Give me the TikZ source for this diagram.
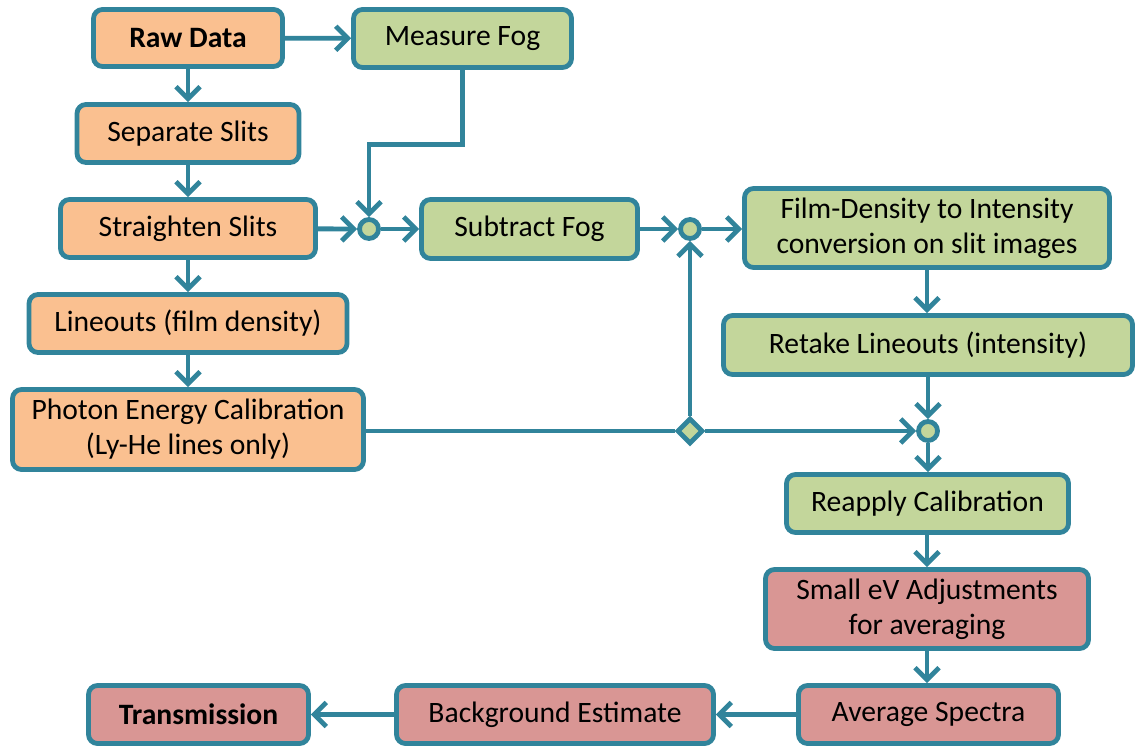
\documentclass[tikz,border=0pt]{standalone}
\usepackage{fontspec}
\setmainfont{Carlito}
\usepackage{xcolor}
\usetikzlibrary{arrows.meta,positioning,shapes.geometric,calc}
\definecolor{cbTeal}{HTML}{31849B}
\definecolor{cbOrange}{HTML}{FAC090}
\definecolor{cbGreen}{HTML}{C3D69B}
\definecolor{cbRed}{HTML}{D99694}

\begin{document}
\begin{tikzpicture}[
  x=0.5pt, y=-0.5pt,
  font=\fontsize{14.8}{17.5}\selectfont,
  box/.style={draw=cbTeal, line width=2.4pt, rounded corners=4.5pt, align=center, inner sep=0pt, fill=#1},
  flow/.style={draw=cbTeal, line width=2.4pt, -{Straight Barb[length=6pt,width=12pt]}},
  link/.style={draw=cbTeal, line width=2.4pt},
  junc/.style={circle, draw=cbTeal, line width=2.4pt, fill=cbGreen, minimum size=9.5pt, inner sep=0pt},
  split/.style={diamond, draw=cbTeal, line width=2.4pt, fill=cbGreen, minimum size=13pt, inner sep=0pt}
]
\useasboundingbox (0,0) rectangle (1138,748);
% left column
\node[box=cbOrange, minimum width=94.5pt, minimum height=28.5pt] (raw) at (188,38) {\textbf{Raw Data}};
\node[box=cbOrange, minimum width=111pt, minimum height=29pt] (sep) at (188,133.5) {Separate Slits};
\node[box=cbOrange, minimum width=127.5pt, minimum height=29pt] (straight) at (188,228.5) {Straighten Slits};
\node[box=cbOrange, minimum width=159pt, minimum height=29pt] (lineouts) at (188,323.5) {Lineouts (film density)};
\node[box=cbOrange, minimum width=175.5pt, minimum height=40pt] (photon) at (188,429.5) {Photon Energy Calibration\\(Ly-He lines only)};
% fog branch
\node[box=cbGreen, minimum width=109pt, minimum height=29pt] (measure) at (462.5,38.5) {Measure Fog};
\node[junc] (jfog) at (369,229) {};
\node[box=cbGreen, minimum width=108pt, minimum height=29.5pt] (subtract) at (529.5,229) {Subtract Fog};
\node[junc] (jint) at (690,229) {};
\node[split] (fork) at (690,431) {};
% right column
\node[box=cbGreen, minimum width=182.5pt, minimum height=39.5pt] (film) at (927,228) {Film-Density to Intensity\\conversion on slit images};
\node[box=cbGreen, minimum width=204.5pt, minimum height=29.5pt] (retake) at (928,345) {Retake Lineouts (intensity)};
\node[junc] (jcal) at (928,431) {};
\node[box=cbGreen, minimum width=141pt, minimum height=29pt] (reapply) at (927.5,503.5) {Reapply Calibration};
\node[box=cbRed, minimum width=161.5pt, minimum height=39.5pt] (small) at (927,609) {Small eV Adjustments\\for averaging};
% bottom row
\node[box=cbRed, minimum width=130pt, minimum height=29pt] (average) at (928.5,714.5) {Average Spectra};
\node[box=cbRed, minimum width=158.5pt, minimum height=29pt] (background) at (555,714.5) {Background Estimate};
\node[box=cbRed, minimum width=110pt, minimum height=29pt] (trans) at (198.5,714.5) {\textbf{Transmission}};
% connectors
\draw[flow] (raw) -- (measure);
\draw[flow] (raw) -- (sep);
\draw[flow] (sep) -- (straight);
\draw[flow] (straight) -- (lineouts);
\draw[flow] (lineouts) -- (photon);
\draw[flow] (straight) -- (jfog);
\draw[flow] (measure.south) -- ++(0,75) -| (jfog.north);
\draw[flow] (jfog) -- (subtract);
\draw[flow] (subtract) -- (jint);
\draw[flow] (jint) -- (film.west |- jint);
\draw[link] (photon.east |- fork) -- (fork.west);
\draw[flow] (fork.north) -- (jint.south);
\draw[flow] (fork.east) -- (jcal.west);
\draw[flow] (film.south) -- (film.south |- retake.north);
\draw[flow] (retake.south -| jcal) -- (jcal.north);
\draw[flow] (jcal.south) -- (jcal |- reapply.north);
\draw[flow] (reapply.south -| small) -- (small.north);
\draw[flow] (small.south) -- (small.south |- average.north);
\draw[flow] (average) -- (background);
\draw[flow] (background) -- (trans);
\end{tikzpicture}
\end{document}
